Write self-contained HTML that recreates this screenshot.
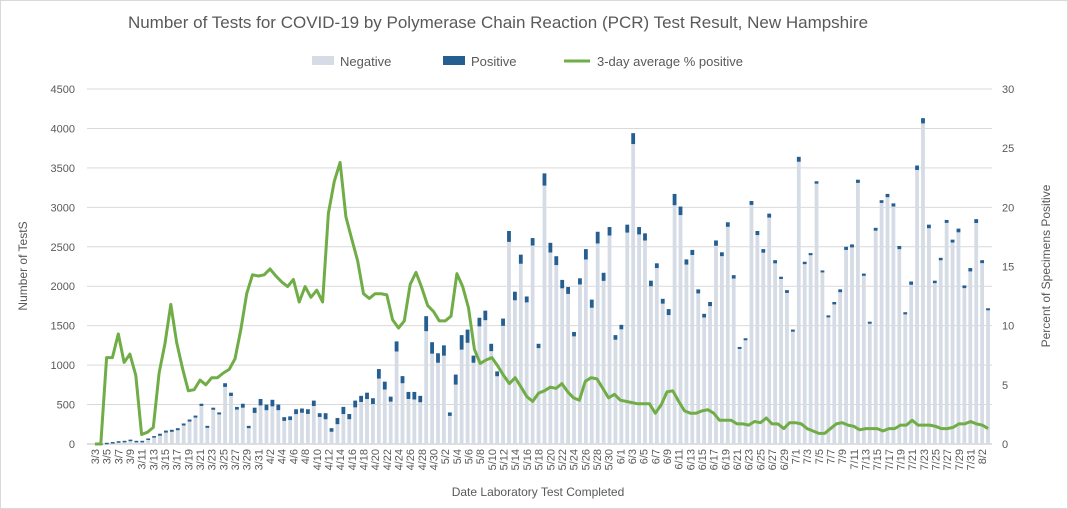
<!DOCTYPE html>
<html><head><meta charset="utf-8"><style>
body{margin:0;background:#fff;}
svg{display:block;font-family:"Liberation Sans",sans-serif;}
</style></head><body>
<svg id="s" width="1068" height="509" viewBox="0 0 1068 509">
<rect x="0.5" y="0.5" width="1067" height="508" fill="#fff" stroke="#d9d9d9"/>
<text x="498" y="28" font-size="17" fill="#595959" text-anchor="middle">Number of Tests for COVID-19 by Polymerase Chain Reaction (PCR) Test Result, New Hampshire</text>
<rect x="312" y="56" width="22" height="9" fill="#d6dce5"/><text x="340" y="66" font-size="13" fill="#595959">Negative</text>
<rect x="443" y="56" width="22" height="9" fill="#255e91"/><text x="471" y="66" font-size="13" fill="#595959">Positive</text>
<line x1="564" y1="61" x2="590" y2="61" stroke="#70ad47" stroke-width="3"/><text x="597" y="66" font-size="13" fill="#595959">3-day average % positive</text>
<g id="grid"></g>
<g id="bars"></g>
<g id="yl" font-size="11" fill="#595959" text-anchor="end">
<text x="75">0</text><text x="75">500</text><text x="75">1000</text><text x="75">1500</text><text x="75">2000</text><text x="75">2500</text><text x="75">3000</text><text x="75">3500</text><text x="75">4000</text><text x="75">4500</text></g>
<g id="yr" font-size="11" fill="#595959">
<text x="1002">0</text><text x="1002">5</text><text x="1002">10</text><text x="1002">15</text><text x="1002">20</text><text x="1002">25</text><text x="1002">30</text></g>
<text transform="rotate(-90 27 266)" x="27" y="266" font-size="12" fill="#595959" text-anchor="middle">Number of TestS</text>
<text transform="rotate(-90 1050 266)" x="1050" y="266" font-size="12" fill="#595959" text-anchor="middle">Percent of Specimens Positive</text>
<text x="538" y="496" font-size="12" fill="#595959" text-anchor="middle">Date Laboratory Test Completed</text>
<g id="xl" font-size="11" fill="#595959" text-anchor="end">
<text>3/3</text><text>3/5</text><text>3/7</text><text>3/9</text><text>3/11</text><text>3/13</text><text>3/15</text><text>3/17</text><text>3/19</text><text>3/21</text><text>3/23</text><text>3/25</text><text>3/27</text><text>3/29</text><text>3/31</text>
<text>4/2</text><text>4/4</text><text>4/6</text><text>4/8</text><text>4/10</text><text>4/12</text><text>4/14</text><text>4/16</text><text>4/18</text><text>4/20</text><text>4/22</text><text>4/24</text><text>4/26</text><text>4/28</text><text>4/30</text>
<text>5/2</text><text>5/4</text><text>5/6</text><text>5/8</text><text>5/10</text><text>5/12</text><text>5/14</text><text>5/16</text><text>5/18</text><text>5/20</text><text>5/22</text><text>5/24</text><text>5/26</text><text>5/28</text><text>5/30</text>
<text>6/1</text><text>6/3</text><text>6/5</text><text>6/7</text><text>6/9</text><text>6/11</text><text>6/13</text><text>6/15</text><text>6/17</text><text>6/19</text><text>6/21</text><text>6/23</text><text>6/25</text><text>6/27</text><text>6/29</text>
<text>7/1</text><text>7/3</text><text>7/5</text><text>7/7</text><text>7/9</text><text>7/11</text><text>7/13</text><text>7/15</text><text>7/17</text><text>7/19</text><text>7/21</text><text>7/23</text><text>7/25</text><text>7/27</text><text>7/29</text><text>7/31</text><text>8/2</text>
</g>
<polyline id="ln" fill="none" stroke="#70ad47" stroke-width="3" stroke-linejoin="round"/>
</svg>
<script>
var NS="http://www.w3.org/2000/svg",X0=92,W=899,Y0=444,PT=355/4500,PP=355/30;
var tot=[0,5,15,25,35,40,55,40,40,70,100,130,170,180,200,260,310,360,510,230,460,400,770,650,470,510,230,460,570,500,560,500,340,350,440,450,440,550,390,390,200,330,470,380,550,610,650,580,950,790,600,1300,860,660,660,610,1620,1290,1150,1250,400,880,1380,1450,1120,1600,1690,1270,920,1590,2700,1930,2400,1870,2610,1270,3430,2550,2380,2080,1990,1420,2100,2470,1830,2690,2170,2750,1380,1510,2780,3940,2750,2670,2070,2290,1840,1710,3170,3010,2340,2460,1960,1650,1800,2580,2430,2810,2140,1230,1340,3080,2700,2470,2920,2330,2120,1950,1450,3640,2310,2420,3330,2200,1630,1800,1960,2500,2530,3350,2160,1550,2740,3090,3170,3050,2510,1670,2060,3530,4130,2780,2070,2360,2840,2590,2730,2010,2230,2850,2330,1720];
var pct=[0,0,7.3,7.3,9.3,6.9,7.6,5.8,0.8,1.0,1.4,6,8.5,11.8,8.6,6.4,4.5,4.6,5.4,5,5.6,5.6,6,6.3,7.2,9.7,12.7,14.3,14.2,14.3,14.8,14.2,13.7,13.3,13.9,12,13.3,12.4,13,12,19.5,22.2,23.8,19.2,17.3,15.5,12.7,12.3,12.7,12.7,12.6,10.5,9.8,10.4,13.5,14.5,13.2,11.7,11.2,10.4,10.4,10.8,14.4,13.3,11.5,8,6.8,7.1,7.3,6.6,5.8,5.1,5.6,4.8,4,3.6,4.3,4.5,4.8,4.7,5.1,4.4,3.9,3.7,5.3,5.6,5.5,4.7,3.9,4.2,3.7,3.6,3.5,3.4,3.4,3.4,2.6,3.3,4.4,4.5,3.6,2.8,2.6,2.6,2.8,2.9,2.6,2,2,2,1.7,1.7,1.6,1.9,1.8,2.2,1.7,1.7,1.3,1.8,1.8,1.7,1.3,1.1,0.9,0.9,1.3,1.7,1.8,1.6,1.5,1.2,1.3,1.3,1.3,1.1,1.3,1.3,1.6,1.6,2,1.6,1.6,1.6,1.5,1.3,1.3,1.4,1.7,1.7,1.9,1.7,1.6,1.3];
function el(t,a,p){var e=document.createElementNS(NS,t);for(var k in a)e.setAttribute(k,a[k]);p.appendChild(e);return e;}
var g=document.getElementById("grid");
for(var i=0;i<=9;i++){var y=Y0-i*500*PT;el("line",{x1:87,x2:992,y1:y,y2:y,stroke:i?"#d9d9d9":"#bfbfbf","stroke-width":1},g);}
var yl=document.getElementById("yl").children;for(i=0;i<yl.length;i++)yl[i].setAttribute("y",Y0-i*500*PT+4);
var yr=document.getElementById("yr").children;for(i=0;i<yr.length;i++)yr[i].setAttribute("y",Y0-i*5*PP+4);
var b=document.getElementById("bars"),N=tot.length,sw=W/N;
for(i=0;i<N;i++){var t=tot[i];if(!t)continue;var pi=Math.min(pct.length-1,Math.round(i*154/N));
var p=Math.max(t*pct[pi]/100,t>100?25:0);var x=X0+i*sw+sw*0.18,w=sw*0.64;
el("rect",{x:x,y:Y0-t*PT,width:w,height:t*PT,fill:"#d6dce5"},b);
el("rect",{x:x,y:Y0-t*PT,width:w,height:Math.max(p*PT,1.5),fill:"#255e91"},b);}
var s=W/154,pts=[];for(i=0;i<pct.length;i++)pts.push((X0+(i+0.5)*s).toFixed(1)+","+(Y0-pct[i]*PP).toFixed(1));
document.getElementById("ln").setAttribute("points",pts.join(" "));
var xl=document.getElementById("xl").children;
for(i=0;i<xl.length;i++){var cx=X0+(2*i+0.5)*s+4;xl[i].setAttribute("x",cx);xl[i].setAttribute("y",449);xl[i].setAttribute("transform","rotate(-90 "+cx+" 449)");}
</script>
</body></html>
